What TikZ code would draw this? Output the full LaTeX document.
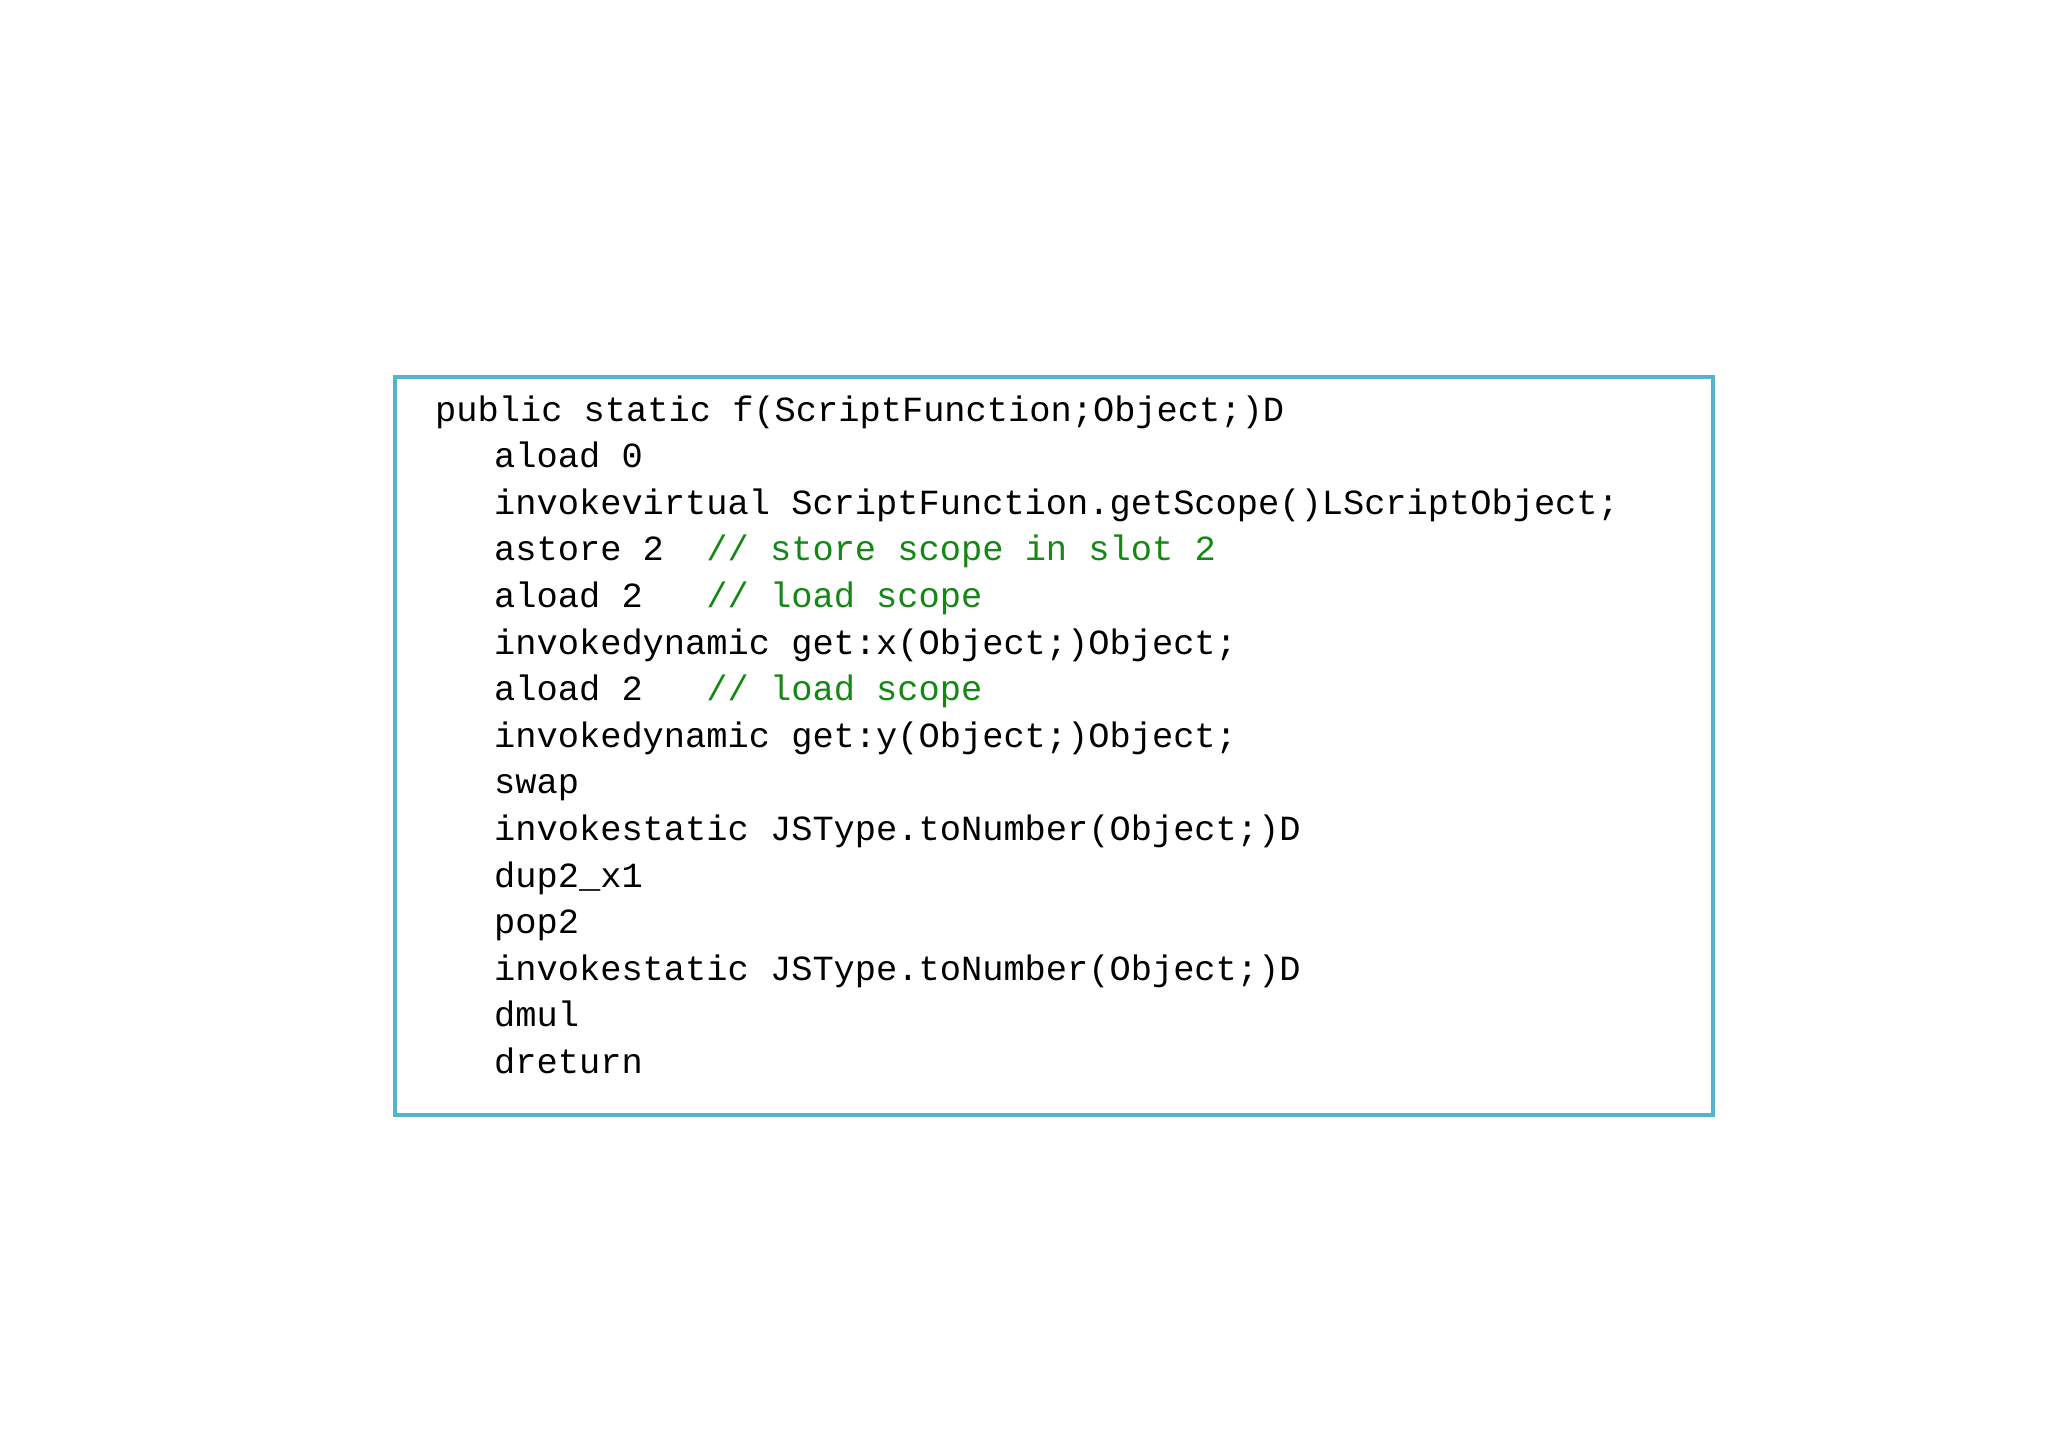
\documentclass[tikz,border=0pt]{standalone}
\usepackage{fontspec}
\setmonofont{Liberation Mono}
\definecolor{boxc}{RGB}{84,180,204}
\definecolor{cmt}{RGB}{20,135,20}
\begin{document}
\begin{tikzpicture}[x=1bp,y=-1bp,
  code/.style={anchor=base west,inner sep=0,font=\ttfamily\fontsize{35.5}{40}\selectfont}]
\useasboundingbox (0,0) rectangle (2048,1447);
\node[draw=boxc,line width=4bp,minimum width=1318bp,minimum height=738bp,anchor=north west] (box) at (393,375) {};
\def\bl{421}\def\sp{46.6}
\node[code] (l0) at (435,\bl) {public static f(ScriptFunction;Object;)D};
\foreach \t [count=\i] in {
 {aload 0},
 {invokevirtual ScriptFunction.getScope()LScriptObject;},
 {astore 2~~\textcolor{cmt}{// store scope in slot 2}},
 {aload 2~~~\textcolor{cmt}{// load scope}},
 {invokedynamic get:x(Object;)Object;},
 {aload 2~~~\textcolor{cmt}{// load scope}},
 {invokedynamic get:y(Object;)Object;},
 {swap},
 {invokestatic JSType.toNumber(Object;)D},
 {dup2\_x1},
 {pop2},
 {invokestatic JSType.toNumber(Object;)D},
 {dmul},
 {dreturn}}
 \node[code] (l\i) at (494,\bl+\i*\sp) {\t};
\end{tikzpicture}
\end{document}
